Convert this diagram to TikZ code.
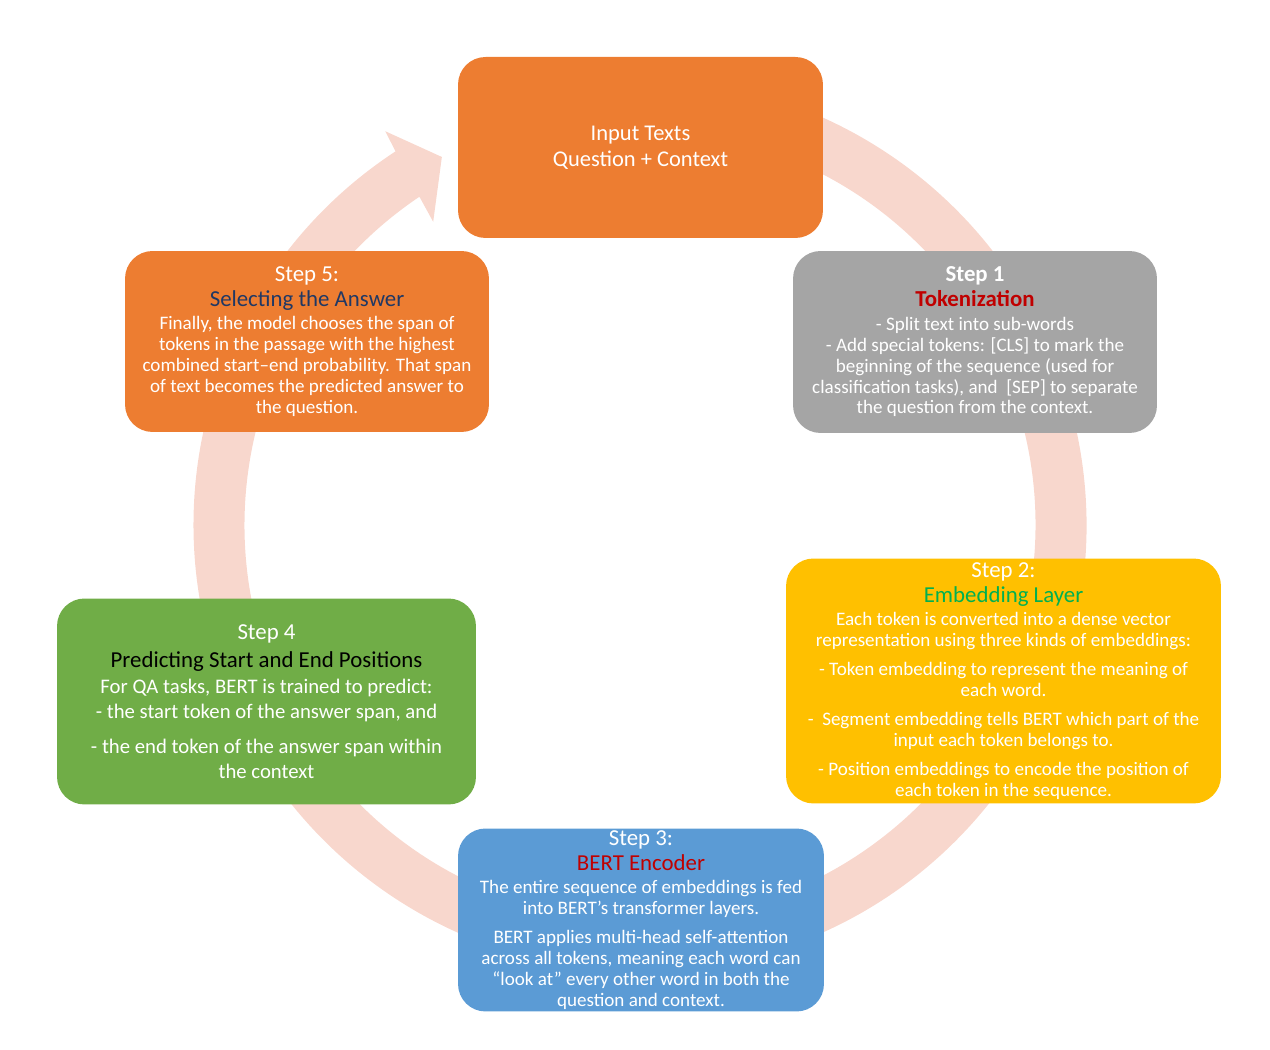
\documentclass[tikz,border=0pt]{standalone}
\usepackage{fontspec}
\setmainfont{Carlito}
\definecolor{accorange}{RGB}{237,125,49}
\definecolor{accgray}{RGB}{165,165,165}
\definecolor{accgold}{RGB}{255,192,0}
\definecolor{accblue}{RGB}{91,155,213}
\definecolor{accgreen}{RGB}{112,173,71}
\definecolor{ringpink}{RGB}{248,215,205}
\definecolor{titlered}{RGB}{192,0,0}
\definecolor{titlegreen}{RGB}{0,176,80}
\definecolor{titlenavy}{RGB}{32,56,100}
\newcommand\bigline[1]{{\fontsize{13}{14}\selectfont #1}}
\begin{document}
\begin{tikzpicture}[x=0.02cm,y=0.02cm,
  box/.style={rounded corners=0.55cm,inner sep=0pt,align=center,text=white,
    font=\fontsize{10.85}{11.9}\selectfont},
  ring/.style={fill=ringpink}]
\useasboundingbox (0,0) rectangle (1270,1050);
\coordinate (c) at (640,525);
\begin{scope}[shift={(c)}]
\fill[ring](100:446.5) arc[start angle=100,end angle=-236.8,radius=446.5]
  --(-237.1:469)--(-241.7:418)--(-235.7:367)--(-236.1:395.5)
  arc[start angle=-236.1,end angle=100,radius=395.5]--cycle;
\end{scope}

\node[box,fill=accorange,minimum width=7.3cm,minimum height=3.62cm,
  font=\fontsize{12.8}{14.7}\selectfont] (input) at (640.5,902.5)
  {Input Texts\\Question + Context};

\node[box,fill=accgray,minimum width=7.28cm,minimum height=3.64cm] (tok) at (975,708)
  {\bigline{\bfseries Step 1}\\[2.3pt]
   \bigline{\bfseries\color{titlered}Tokenization}\\[1.4pt]
   - Split text into sub-words\\
   - Add special tokens: [CLS] to mark the\\
   beginning of the sequence (used for\\
   classification tasks), and\ \ [SEP] to separate\\
   the question from the context.};

\node[box,fill=accgold,minimum width=8.7cm,minimum height=4.9cm] (emb) at (1003.5,369)
  {\bigline{Step 2:}\\[2.3pt]
   \bigline{\color{titlegreen}Embedding Layer}\\[1.4pt]
   Each token is converted into a dense vector\\
   representation using three kinds of embeddings:\\[4.5pt]
   - Token embedding to represent the meaning of\\
   each word.\\[4.5pt]
   -\ \ Segment embedding tells BERT which part of the\\
   input each token belongs to.\\[4.5pt]
   - Position embeddings to encode the position of\\
   each token in the sequence.};

\node[box,fill=accblue,minimum width=7.32cm,minimum height=3.66cm] (enc) at (641,130)
  {\bigline{Step 3:}\\[2.3pt]
   \bigline{\color{titlered}BERT Encoder}\\[1.4pt]
   The entire sequence of embeddings is fed\\
   into BERT’s transformer layers.\\[4.5pt]
   BERT applies multi-head self-attention\\
   across all tokens, meaning each word can\\
   “look at” every other word in both the\\
   question and context.};

\node[box,fill=accgreen,minimum width=8.38cm,minimum height=4.12cm,
  font=\fontsize{11.8}{14.2}\selectfont] (pred) at (266.5,348.5)
  {\bigline{Step 4}\\[1.7pt]
   \bigline{\color{black}Predicting Start and End Positions}\\[1.1pt]
   For QA tasks, BERT is trained to predict:\\
   - the start token of the answer span, and\\[5.6pt]
   - the end token of the answer span within\\
   the context};

\node[box,fill=accorange,minimum width=7.28cm,minimum height=3.62cm] (sel) at (307,708.5)
  {\bigline{Step 5:}\\[2.3pt]
   \bigline{\color{titlenavy}Selecting the Answer}\\[1.4pt]
   Finally, the model chooses the span of\\
   tokens in the passage with the highest\\
   combined start–end probability. That span\\
   of text becomes the predicted answer to\\
   the question.};
\end{tikzpicture}
\end{document}
